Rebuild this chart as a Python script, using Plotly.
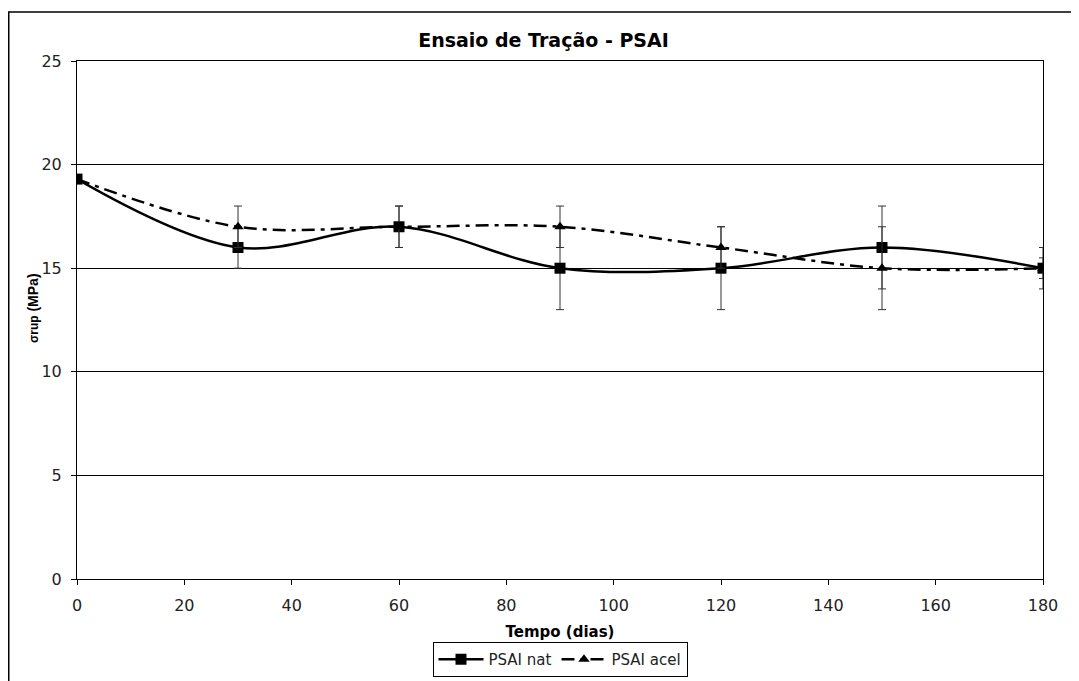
import plotly.graph_objects as go

dias = [0, 30, 60, 90, 120, 150, 180]
nat = [19.3, 16, 17, 15, 15, 16, 15]
nat_err = [0, 1, 1, 2, 2, 2, 1]
acel = [19.3, 17, 17, 17, 16, 15, 15]
acel_err = [0, 1, 1, 1, 1, 2, 0.5]

x_ticks = list(range(0, 181, 20))
y_ticks = [0, 5, 10, 15, 20, 25]

WIDE = "DejaVu Sans, Verdana, sans-serif"
ARIAL = "Liberation Sans, Arial, sans-serif"

W, H = 1071, 673
L, R, T, B = 69, 36, 53, 102
PW, PH = W - L - R, H - T - B

fig = go.Figure()

fig.add_trace(go.Scatter(
    x=dias, y=nat, name="PSAI nat", mode="lines+markers",
    line=dict(color="black", width=2.5, shape="spline", smoothing=1),
    marker=dict(symbol="square", size=11, color="black"),
    error_y=dict(type="data", array=nat_err, visible=True, color="#333", thickness=1, width=4),
))
fig.add_trace(go.Scatter(
    x=dias, y=acel, name="PSAI acel", mode="lines+markers",
    line=dict(color="black", width=2.5, shape="spline", smoothing=1, dash="13px,6px,4px,6px"),
    marker=dict(symbol="triangle-up", size=10, color="black"),
    error_y=dict(type="data", array=acel_err, visible=True, color="#333", thickness=1, width=4),
))

fig.update_layout(
    width=W, height=H,
    margin=dict(l=L, r=R, t=T, b=B, autoexpand=False),
    paper_bgcolor="white", plot_bgcolor="white",
    font=dict(family=WIDE, size=16, color="#222"),
    title=dict(text="<b>Ensaio de Tração - PSAI</b>", x=0.5, xref="container", xanchor="center",
               y=1 - 32 / H, yref="container", yanchor="middle",
               font=dict(family=WIDE, size=19, color="black")),
    showlegend=True,
    legend=dict(orientation="h", x=0.5, xanchor="center", xref="paper",
                y=1 - 634 / H, yref="container", yanchor="top",
                bordercolor="black", borderwidth=1, bgcolor="white",
                font=dict(family=WIDE, size=15, color="#222"),
                tracegroupgap=0, itemsizing="trace", itemwidth=45),
    shapes=[dict(type="rect", xref="paper", yref="paper",
                 x0=(0.75 - L) / PW, x1=1.3, y0=-0.6, y1=(T + PH - 4) / PH,
                 line=dict(color="black", width=1.5), layer="below")],
    annotations=[dict(text="<b><span style='font-size:12px'>σrup</span> (MPa)</b>",
                      xref="paper", yref="paper", x=(25 - L) / PW, y=(T + PH - 300) / PH,
                      xanchor="center", yanchor="middle", textangle=-90, showarrow=False,
                      font=dict(family=ARIAL, size=14, color="black"))],
)

fig.update_xaxes(
    range=[0, 180], tickvals=x_ticks, ticks="outside", ticklen=5, tickcolor="black",
    showline=True, linecolor="black", linewidth=1, mirror=True, showgrid=False, zeroline=False,
    automargin=False, ticklabelstandoff=7,
    tickfont=dict(family=WIDE, size=16, color="#222"),
    title=dict(text="<b>Tempo (dias)</b>", font=dict(family=WIDE, size=15, color="black"), standoff=12),
)
fig.update_yaxes(
    range=[0, 25], tickvals=y_ticks, ticks="outside", ticklen=5, tickcolor="black",
    showline=True, linecolor="black", linewidth=1, mirror=True,
    showgrid=True, gridcolor="black", gridwidth=1, zeroline=False,
    automargin=False, ticklabelstandoff=6,
    tickfont=dict(family=WIDE, size=16, color="#222"),
)

fig.write_html("out.html")
